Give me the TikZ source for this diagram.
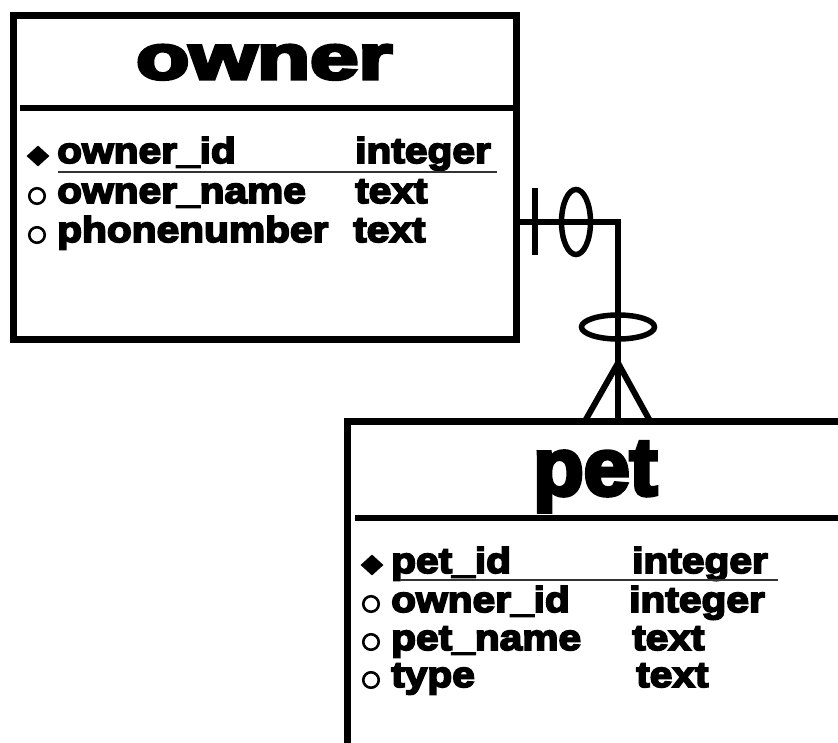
\documentclass[tikz,border=0pt]{standalone}
\usepackage{fontspec}
\usepackage{graphicx}
\usetikzlibrary{shapes.geometric}
\newfontfamily\attrfont{Liberation Sans Bold}[FakeStretch=1.13,FakeBold=5]
\newfontfamily\titlefont{Liberation Sans Bold}[FakeBold=5]
\tikzset{
  border/.style={draw, line width=7pt, outer sep=0pt, inner sep=0pt, anchor=north west},
  divider/.style={line width=6.5pt},
  conn/.style={line width=6pt},
  uline/.style={line width=2.5pt, black!80},
  attr/.style={inner sep=0pt, anchor=base west, font=\attrfont\fontsize{36}{36}\selectfont},
  ttl/.style={inner sep=0pt, anchor=base west},
  pkmark/.style={diamond, fill=black, inner sep=0pt, minimum width=23pt, minimum height=21pt},
  colmark/.style={circle, draw, line width=2.6pt, minimum size=15.5pt, inner sep=0pt},
  optmark/.style={ellipse, draw, line width=5.5pt, inner sep=0pt}
}
\begin{document}
\begin{tikzpicture}[x=1pt,y=-1pt]
\useasboundingbox (0,0) rectangle (838,742);
\clip (0,0) rectangle (838,742);

% owner table
\node[border, minimum width=503pt, minimum height=324pt] (owner) at (13.5,15) {};
\draw[divider] (20,108) -- (owner.east |- 0,108);
\node[ttl] (ownertitle) at (136,79) {\resizebox{256pt}{34pt}{\titlefont owner}};

\node[pkmark] (opk) at (38,156) {};
\node[colmark] (oc2) at (37,196) {};
\node[colmark] (oc3) at (37,235) {};
\node[attr] (on1) at (57,163) {owner\_id};
\node[attr] (on2) at (57,203) {owner\_name};
\node[attr] (on3) at (57,242) {phonenumber};
\node[attr] (ot1) at (355,163) {integer};
\node[attr] (ot2) at (355,203) {text};
\node[attr] (ot3) at (353,242) {text};
\coordinate (ou1) at (58,172);
\coordinate (ou2) at (497,172);
\draw[uline] (ou1) -- (ou2);

% pet table
\node[border, minimum width=653pt, minimum height=479pt] (pet) at (347,421) {};
\draw[divider] (355,518) -- (pet.east |- 0,518);
\node[ttl] (pettitle) at (533,495) {\resizebox{124pt}{53pt}{\titlefont pet}};

\node[pkmark] (ppk) at (372,565) {};
\node[colmark] (pc2) at (371,604) {};
\node[colmark] (pc3) at (371,642) {};
\node[colmark] (pc4) at (371,680) {};
\node[attr] (pn1) at (391,573) {pet\_id};
\node[attr] (pn2) at (391,612) {owner\_id};
\node[attr] (pn3) at (391,650) {pet\_name};
\node[attr] (pn4) at (391,687) {type};
\node[attr] (pt1) at (632,573) {integer};
\node[attr] (pt2) at (629,612) {integer};
\node[attr] (pt3) at (632,650) {text};
\node[attr] (pt4) at (636,687) {text};
\coordinate (pu1) at (400,580);
\coordinate (pu2) at (778,580);
\draw[uline] (pu1) -- (pu2);

% relationship
\draw[conn] (owner.east |- 0,222) -| (pet.north -| 618,0);
\coordinate (bar1) at (535,188);
\coordinate (bar2) at (535,255);
\draw[conn] (bar1) -- (bar2);
\node[optmark, minimum width=29pt, minimum height=65pt] (zeroone) at (576,222) {};
\node[optmark, minimum width=73pt, minimum height=24pt] (zeromany) at (618,327) {};
\coordinate (apex) at (618,363);
\draw[conn] (apex) -- (pet.north -| 585,0);
\draw[conn] (apex) -- (pet.north -| 650,0);
\end{tikzpicture}
\end{document}
